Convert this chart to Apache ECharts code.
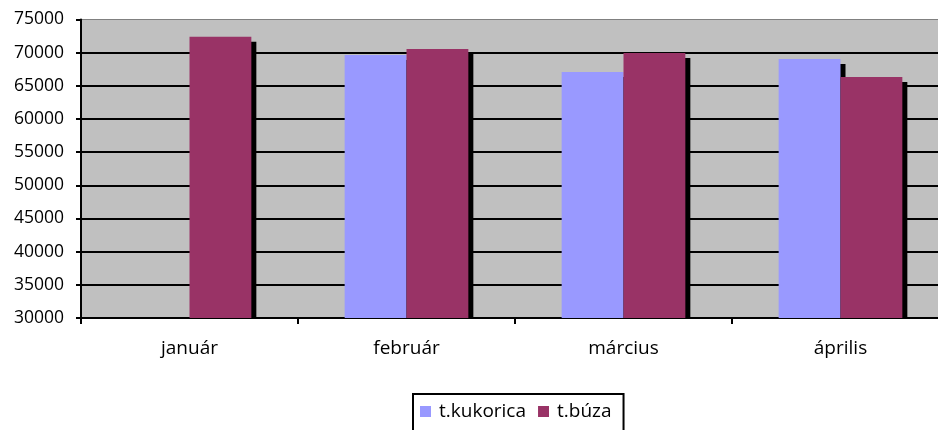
<!DOCTYPE html>
<html>
<head>
<meta charset="utf-8">
<script src="https://cdn.jsdelivr.net/npm/echarts@6/dist/echarts.min.js"></script>
<style>html,body{margin:0;padding:0;background:#fff}#c{width:938px;height:430px}</style>
</head>
<body>
<div id="c"></div>
<script>
const categories = ['január', 'február', 'március', 'április'];
const seriesNames = ['t.kukorica', 't.búza'];
const kukorica = [null, 69650, 67100, 69050];
const buza = [72400, 70550, 69950, 66330];
const yTicks = [30000, 35000, 40000, 45000, 50000, 55000, 60000, 65000, 70000, 75000];

const FONT = 'Open Sans';
const FS = 17.5;
const FSX = 19;
const GAP = 0.43;
const colors = ['#9999FF', '#993366'];
const allSeries = [kukorica, buza];

function shadowSeries(idx) {
  const data = [];
  allSeries[idx].forEach((v, i) => { if (v != null) data.push([i, v]); });
  return {
    type: 'custom',
    name: seriesNames[idx] + '_shadow',
    clip: true,
    z: 1,
    silent: true,
    data: data,
    encode: { x: 0, y: 1 },
    renderItem: function (params, api) {
      const cat = api.value(0), v = api.value(1);
      const top = api.coord([cat, v]);
      const base = api.coord([cat, yTicks[0]]);
      const bandW = api.size([1, 0])[0];
      const barW = bandW * (1 - GAP) / 2;
      const x0 = top[0] - barW + idx * barW;
      return {
        type: 'rect',
        shape: { x: x0 + 5, y: top[1] + 5, width: barW, height: base[1] - top[1] },
        style: { fill: '#000' }
      };
    }
  };
}

const chart = echarts.init(document.getElementById('c'), null, { renderer: 'canvas' });
chart.setOption({
  animation: false,
  textStyle: { fontFamily: FONT },
  grid: {
    left: 81, top: 19.5, height: 298.5, width: 868,
    outerBoundsMode: 'none', containLabel: false,
    show: true, backgroundColor: '#C0C0C0', borderColor: '#808080', borderWidth: 1
  },
  legend: {
    data: seriesNames.map((n, i) => ({ name: n, icon: 'rect', itemStyle: { color: colors[i] } })),
    left: 413, top: 394,
    orient: 'horizontal',
    itemWidth: 11, itemHeight: 11, itemGap: 12,
    padding: [8, 12, 30, 7],
    borderColor: '#000', borderWidth: 2,
    textStyle: { fontFamily: FONT, fontSize: FSX, color: '#000', padding: [0, 0, 0, 3] }
  },
  xAxis: {
    type: 'category',
    data: categories,
    axisLine: { lineStyle: { color: '#000', width: 2 } },
    axisTick: { show: true, length: 6, lineStyle: { color: '#000', width: 2 } },
    axisLabel: { color: '#000', fontSize: FSX, fontFamily: FONT, margin: 21 },
    splitLine: { show: false }
  },
  yAxis: {
    type: 'value',
    min: yTicks[0], max: yTicks[yTicks.length - 1], interval: yTicks[1] - yTicks[0],
    axisLine: { show: true, lineStyle: { color: '#000', width: 2 } },
    axisTick: { show: true, length: 5, lineStyle: { color: '#000', width: 2 } },
    axisLabel: { color: '#000', fontSize: FS, fontFamily: FONT, margin: 17,
      formatter: v => String(v) },
    splitLine: { show: true, showMaxLine: false, lineStyle: { color: '#000', width: 2 } }
  },
  series: [
    shadowSeries(0),
    shadowSeries(1),
    { type: 'bar', name: seriesNames[0], data: kukorica, itemStyle: { color: colors[0] },
      barGap: '0%', barCategoryGap: (GAP * 100) + '%', z: 3 },
    { type: 'bar', name: seriesNames[1], data: buza, itemStyle: { color: colors[1] },
      barGap: '0%', barCategoryGap: (GAP * 100) + '%', z: 3 }
  ]
});
</script>
</body>
</html>
